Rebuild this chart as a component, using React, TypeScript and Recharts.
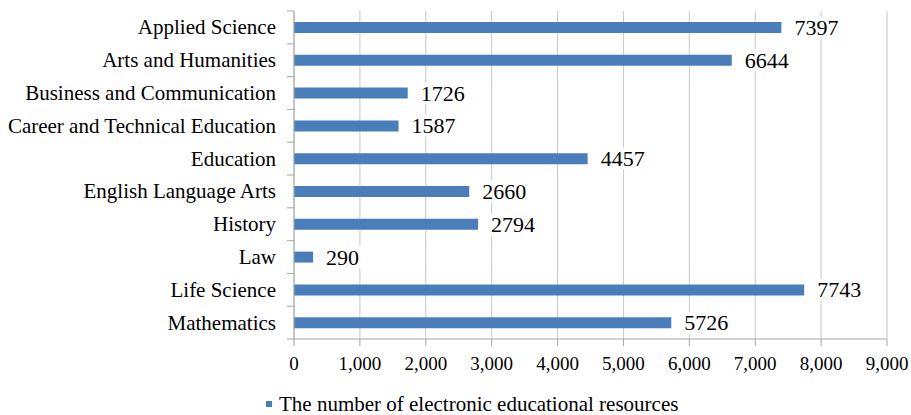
import React from 'react';
import { BarChart, Bar, XAxis, YAxis, CartesianGrid, LabelList } from 'recharts';

const categories = [
  'Applied Science',
  'Arts and Humanities',
  'Business and Communication',
  'Career and Technical Education',
  'Education',
  'English Language Arts',
  'History',
  'Law',
  'Life Science',
  'Mathematics',
];
const resources = [7397, 6644, 1726, 1587, 4457, 2660, 2794, 290, 7743, 5726];
const xTicks = [0, 1000, 2000, 3000, 4000, 5000, 6000, 7000, 8000, 9000];
const seriesName = 'The number of electronic educational resources';

const data = categories.map((c, i) => ({ category: c, value: resources[i] }));

const FONT = '"Liberation Serif", "Times New Roman", serif';
const BAR = '#4A7EBB';
const BAND = 32.8;

const YTick = (props: any) => {
  const { x, y, payload, index } = props;
  const axisX = x + 18;
  return (
    <g>
      <line x1={axisX - 7} x2={axisX} y1={y - BAND / 2} y2={y - BAND / 2} stroke="#A6A6A6" />
      {index === categories.length - 1 && (
        <line x1={axisX - 7} x2={axisX} y1={y + BAND / 2} y2={y + BAND / 2} stroke="#A6A6A6" />
      )}
      <text x={x} y={y} textAnchor="end" dominantBaseline="central" fontSize={21} fill="#000" fontFamily={FONT}>
        {payload.value}
      </text>
    </g>
  );
};

const ValueLabel = (props: any) => {
  const { x, y, width, height, value } = props;
  const s = String(value);
  const tx = x + width + 13;
  const w = s.length * 11 + 4;
  return (
    <g>
      <rect x={tx - 2} y={y + height / 2 - 11} width={w} height={22} fill="#fff" />
      <text x={tx} y={y + height / 2} dominantBaseline="central" fontSize={22} fill="#000" fontFamily={FONT}>
        {s}
      </text>
    </g>
  );
};

export default function App() {
  return (
    <div style={{ position: 'absolute', left: 0, top: 0, width: 911, height: 415, background: '#fff', overflow: 'hidden' }}>
      <BarChart
        width={911}
        height={415}
        data={data}
        layout="vertical"
        margin={{ top: 11, right: 24, bottom: 36, left: 0 }}
        barCategoryGap={0}
        style={{ fontFamily: FONT }}
      >
        <CartesianGrid horizontal={false} stroke="#C8C8C8" strokeWidth={1} />
        <XAxis
          type="number"
          domain={[0, 9000]}
          ticks={xTicks}
          interval={0}
          tickFormatter={(v: number) => v.toLocaleString('en-US')}
          tick={{ fontSize: 19, fill: '#000', fontFamily: FONT }}
          stroke="#A6A6A6"
          tickSize={7}
          tickMargin={11}
          height={40}
        />
        <YAxis
          type="category"
          dataKey="category"
          width={294}
          interval={0}
          stroke="#A6A6A6"
          tickLine={false}
          tickSize={7}
          tickMargin={11}
          tick={<YTick />}
        />
        <Bar dataKey="value" fill={BAR} barSize={11} isAnimationActive={false}>
          <LabelList dataKey="value" content={<ValueLabel />} />
        </Bar>
      </BarChart>
      <div
        style={{
          position: 'absolute',
          left: 266,
          top: 394,
          height: 20,
          lineHeight: '20px',
          display: 'flex',
          alignItems: 'center',
          fontFamily: FONT,
          fontSize: 21,
          color: '#000',
          whiteSpace: 'nowrap',
        }}
      >
        <span style={{ display: 'inline-block', width: 6, height: 6, background: BAR, marginRight: 7 }} />
        <span>{seriesName}</span>
      </div>
    </div>
  );
}
